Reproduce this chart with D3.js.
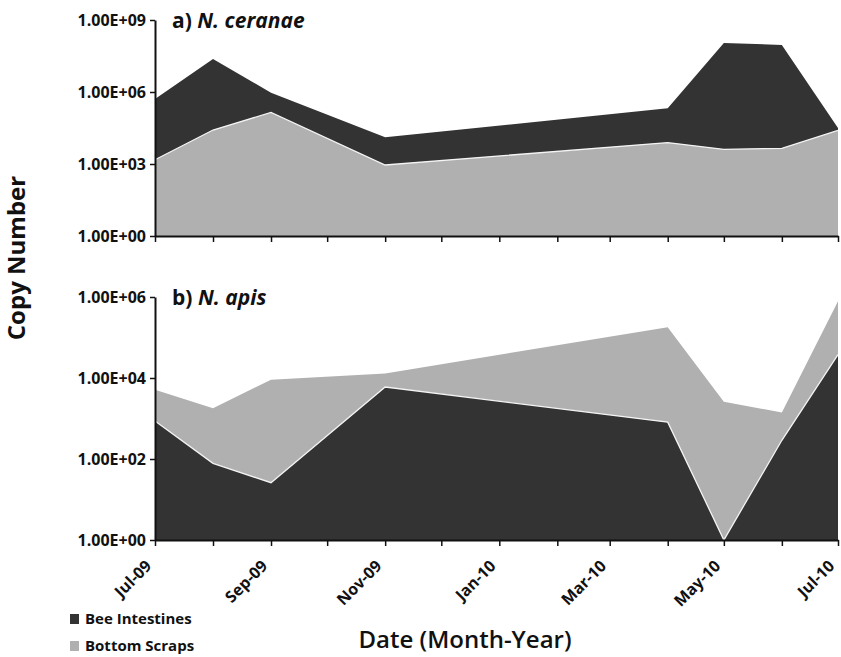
<!DOCTYPE html>
<html lang="en">
<head>
<meta charset="UTF-8">
<title>Nosema copy number</title>
<script src="https://d3js.org/d3.v7.min.js"></script>
<style>
  body { margin: 0; background: #fff; }
  svg text { font-family: "Open Sans", Lato, sans-serif; font-weight: bold; fill: #111; }
  .axis path, .axis line { stroke: #111; }
  .axis path { stroke-width: 2; }
  .axis line { stroke-width: 1.5; }
</style>
</head>
<body>
<svg id="chart" width="841" height="657"></svg>
<script>
// sampling dates
const dates = ["2009-07-01", "2009-08-01", "2009-09-01", "2009-11-01",
               "2010-04-01", "2010-05-01", "2010-06-01", "2010-07-01"];
// a) N. ceranae
const ceranaeIntestines = [5.1e5, 2.4e7, 9.3e5, 1.3e4, 2.1e5, 1.1e8, 9.1e7, 3.2e4];
const ceranaeScraps     = [1.5e3, 2.6e4, 1.4e5, 9.1e2, 7.8e3, 4.1e3, 4.5e3, 2.5e4];
// b) N. apis
const apisIntestines = [870, 78, 26, 6.0e3, 810, 1, 290, 3.8e4];
const apisScraps     = [5.1e3, 1.8e3, 9.1e3, 1.3e4, 1.8e5, 2.6e3, 1.4e3, 7.8e5];

const ceranaeTicks = [1, 1e3, 1e6, 1e9];
const apisTicks = [1, 1e2, 1e4, 1e6];
const seriesNames = ["Bee Intestines", "Bottom Scraps"];

const DARK = "#333333", LIGHT = "#b0b0b0";
const parse = d3.timeParse("%Y-%m-%d");
const svg = d3.select("#chart");

const x = d3.scaleTime()
    .domain([parse("2009-07-01"), parse("2010-07-01")])
    .range([155, 838]);

function sci(d) {
    const e = Math.round(Math.log10(d));
    return "1.00E+" + (e < 10 ? "0" + e : e);
}

function panel(opts) {
    const y = d3.scaleLog().domain(opts.domain).range(opts.range);
    const g = svg.append("g");
    const rows = dates.map((d, i) => ({ date: parse(d), a: opts.intestines[i], b: opts.scraps[i] }));
    const area = key => d3.area().x(d => x(d.date)).y0(y(opts.domain[0])).y1(d => y(d[key]));
    const line = key => d3.line().x(d => x(d.date)).y(d => y(d[key]));

    // back series first, front series with a thin white edge
    const order = opts.front === "b" ? ["a", "b"] : ["b", "a"];
    order.forEach((k, i) => {
        g.append("path").datum(rows)
            .attr("d", area(k))
            .attr("fill", k === "a" ? DARK : LIGHT);
        if (i === 1) {
            g.append("path").datum(rows)
                .attr("d", line(k))
                .attr("fill", "none")
                .attr("stroke", "#f4f4f4")
                .attr("stroke-width", 1.3);
        }
    });

    const xAxis = d3.axisBottom(x)
        .ticks(d3.timeMonth.every(1))
        .tickSize(6)
        .tickSizeOuter(0)
        .tickFormat("");
    const xg = g.append("g").attr("class", "axis")
        .attr("transform", "translate(0," + opts.range[0] + ")")
        .call(xAxis);

    if (opts.labels) {
        const fmt = d3.timeFormat("%b-%y");
        xg.selectAll(".tick")
            .filter(d => d.getMonth() % 2 === 0)
            .append("text")
            .attr("transform", "translate(-3,27) rotate(-45)")
            .attr("text-anchor", "end")
            .attr("fill", "#111")
            .style("font-size", "16px")
            .text(fmt);
    }

    const yAxis = d3.axisLeft(y)
        .tickValues(opts.ticks)
        .tickSize(5)
        .tickSizeOuter(0)
        .tickFormat(sci);
    g.append("g").attr("class", "axis")
        .attr("transform", "translate(155,0)")
        .call(yAxis)
        .selectAll("text")
        .attr("x", -9)
        .attr("fill", "#111")
        .style("font-size", "16px");

    const title = g.append("text")
        .attr("x", 172)
        .attr("y", opts.range[1] + 8)
        .style("font-size", "21px");
    title.append("tspan").text(opts.letter + ") ");
    title.append("tspan").style("font-style", "italic").text(opts.name);
}

panel({ domain: [1, 1e9], range: [236, 20], ticks: ceranaeTicks,
        intestines: ceranaeIntestines, scraps: ceranaeScraps,
        front: "b", letter: "a", name: "N. ceranae", labels: false });
panel({ domain: [1, 1e6], range: [540, 297], ticks: apisTicks,
        intestines: apisIntestines, scraps: apisScraps,
        front: "a", letter: "b", name: "N. apis", labels: true });

svg.append("text")
    .attr("transform", "translate(25,258) rotate(-90)")
    .attr("text-anchor", "middle")
    .style("font-size", "24px")
    .text("Copy Number");

svg.append("text")
    .attr("x", 465)
    .attr("y", 648)
    .attr("text-anchor", "middle")
    .style("font-size", "24px")
    .style("font-weight", "600")
    .text("Date (Month-Year)");

// legend
const legend = svg.append("g");
seriesNames.forEach((name, i) => {
    legend.append("rect")
        .attr("x", 70).attr("y", 614 + i * 27)
        .attr("width", 9).attr("height", 10)
        .attr("fill", i === 0 ? DARK : LIGHT);
    legend.append("text")
        .attr("x", 85).attr("y", 624 + i * 27)
        .style("font-size", "15px")
        .text(name);
});
</script>
</body>
</html>
